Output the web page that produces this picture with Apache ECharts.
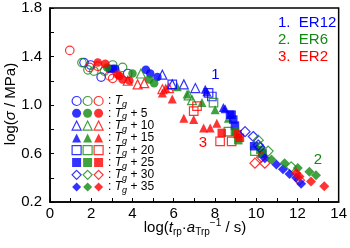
<!DOCTYPE html>
<html><head><meta charset="utf-8">
<script src="https://cdn.jsdelivr.net/npm/echarts@6/dist/echarts.min.js"></script>
<style>html,body{margin:0;padding:0;background:#fff}#c{width:350px;height:248px}</style>
</head><body><div id="c"></div><script>
// ---- data ----
const samples = ['ER12', 'ER6', 'ER2'];
const sampleColors = ['#0000ff', '#118a11', '#ff0000'];
const tempLabels = ['', ' + 5', ' + 10', ' + 15', ' + 20', ' + 25', ' + 30', ' + 35'];
const xTicks = [0, 2, 4, 6, 8, 10, 12, 14];
const yTicks = [0.2, 0.6, 1.0, 1.4, 1.8];

// ER12 (blue)
const er12_Tg   = [[1.65,1.35],[1.97,1.33],[2.48,1.23],[3.77,1.26]];
const er12_Tg5  = [[2.88,1.30],[3.05,1.30],[3.16,1.30],[4.65,1.29],[4.86,1.26],[5.21,1.23]];
const er12_Tg10 = [[5.45,1.25],[5.93,1.17],[6.49,1.17],[7.05,1.14]];
const er12_Tg15 = [[7.53,1.13],[7.61,1.11],[8.41,0.98],[8.49,0.97]];
const er12_Tg20 = [[5.93,1.17],[7.69,1.10],[7.85,1.07]];
const er12_Tg25 = [[8.73,0.92],[8.81,0.92],[8.89,0.88],[8.97,0.83],[9.9,0.66],[10.3,0.60]];
const er12_Tg30 = [[9.46,0.78],[9.86,0.74],[10.10,0.67],[10.18,0.65]];
const er12_Tg35 = [[10.42,0.56],[10.98,0.51],[11.30,0.47],[11.62,0.43],[11.94,0.40],[12.18,0.35]];
// ER6 (green)
const er6_Tg   = [[1.55,1.35],[1.84,1.29],[2.13,1.28],[2.64,1.28],[3.04,1.33],[3.52,1.31]];
const er6_Tg5  = [[2.77,1.31],[4.00,1.26],[4.81,1.21],[5.05,1.18]];
const er6_Tg10 = [[4.41,1.26],[6.73,1.08],[6.89,1.04]];
const er6_Tg15 = [[6.17,1.15],[6.65,1.09],[7.37,1.02],[8.01,0.96],[8.65,0.89]];
const er6_Tg20 = [[7.93,1.02],[8.65,0.78],[9.94,0.62]];
const er6_Tg25 = [[8.97,0.78],[9.13,0.71],[10.20,0.63],[10.30,0.60]];
const er6_Tg30 = [[10.10,0.71],[10.58,0.62],[11.70,0.49]];
const er6_Tg35 = [[10.74,0.55],[11.38,0.52],[12.02,0.48],[12.58,0.45],[12.90,0.42]];
// ER2 (red)
const er2_Tg   = [[0.96,1.45],[1.92,1.31],[2.32,1.32],[2.88,1.24],[3.04,1.22]];
const er2_Tg5  = [[2.32,1.35],[2.68,1.34],[3.28,1.25],[3.37,1.24],[3.52,1.21],[3.85,1.20]];
const er2_Tg10 = [[3.77,1.20],[4.25,1.17],[4.57,1.18],[5.45,1.13],[5.77,1.14]];
const er2_Tg15 = [[5.45,1.10],[5.61,1.14],[5.93,1.05],[6.49,0.89],[6.97,0.88],[7.45,0.81],[7.77,0.81],[8.09,0.85]];
const er2_Tg20 = [[6.97,0.95],[7.13,0.99],[8.25,0.70],[8.81,0.70]];
const er2_Tg25 = [[8.33,0.77],[9.10,0.76],[9.21,0.73]];
const er2_Tg30 = [[9.94,0.52],[10.26,0.57],[10.42,0.52],[12.10,0.38]];
const er2_Tg35 = [[11.94,0.44],[12.10,0.41],[12.66,0.37],[13.30,0.33]];

const sampleData = [
  [er12_Tg, er12_Tg5, er12_Tg10, er12_Tg15, er12_Tg20, er12_Tg25, er12_Tg30, er12_Tg35],
  [er6_Tg, er6_Tg5, er6_Tg10, er6_Tg15, er6_Tg20, er6_Tg25, er6_Tg30, er6_Tg35],
  [er2_Tg, er2_Tg5, er2_Tg10, er2_Tg15, er2_Tg20, er2_Tg25, er2_Tg30, er2_Tg35]
];
const symbols = ['circle','circle','triangle','triangle','rect','rect','diamond','diamond'];
const filled  = [false, true, false, true, false, true, false, true];

// ---- build ----
const FONT = 'Liberation Sans, Arial, sans-serif';
const series = [];
const legendData = [[], [], []];
const tempIdx = {};
samples.forEach((s, si) => {
  const col = sampleColors[si];
  sampleData[si].forEach((arr, ti) => {
    const name = s + ' T' + ti;
    tempIdx[name] = ti;
    const sym = symbols[ti];
    const size = sym === 'diamond' ? 10 : (sym === 'triangle' ? 9 : 8.5);
    const style = filled[ti]
      ? { color: col, borderWidth: 0 }
      : { color: 'rgba(255,255,255,0)', borderColor: col, borderWidth: 1.2 };
    series.push({
      name, type: 'scatter', symbol: sym, symbolSize: size,
      data: arr, itemStyle: style, silent: true, z: 2 + ti
    });
    legendData[si].push({ name, icon: sym, itemStyle: style });
  });
});

function makeRich(color) {
  return {
    c: { fontSize: 12, fontFamily: FONT, lineHeight: 12, color },
    i: { fontSize: 12, fontFamily: FONT, fontStyle: 'italic', lineHeight: 12, color },
    s: { fontSize: 9, fontFamily: FONT, fontStyle: 'italic', lineHeight: 9, padding: [7, 0, 0, 0], color }
  };
}
function fmt(name) {
  return '{c|: }{i|T}{s|g}{c|' + tempLabels[tempIdx[name]] + '}';
}
const legendLeft = [71.5, 82.5, 93.5];
const legends = samples.map((s, si) => {
  const c = si === 2 ? '#000' : 'rgba(0,0,0,0)';
  return {
    data: legendData[si], orient: 'vertical', left: legendLeft[si], top: 93,
    padding: 0, itemWidth: 9, itemHeight: 9, itemGap: -3.7, selectedMode: false,
    formatter: fmt,
    textStyle: { color: c, fontSize: 12, fontFamily: FONT, rich: makeRich(c) }
  };
});

const chart = echarts.init(document.getElementById('c'), null, { renderer: 'canvas' });
chart.setOption({
  animation: false,
  backgroundColor: '#fff',
  grid: { left: 50, right: 9, top: 8, bottom: 46, show: true, borderColor: '#000', borderWidth: 1.5, backgroundColor: 'transparent' },
  xAxis: {
    type: 'value', min: xTicks[0], max: xTicks[xTicks.length - 1], interval: 2,
    axisLine: { show: true, lineStyle: { color: '#000', width: 1.5 } },
    axisTick: { show: true, inside: true, length: 4, lineStyle: { color: '#000', width: 1 } },
    minorTick: { show: true, splitNumber: 2, length: 4, lineStyle: { color: '#000', width: 1 } },
    splitLine: { show: false },
    axisLabel: { color: '#000', fontSize: 15, fontFamily: FONT, margin: 4 }
  },
  yAxis: {
    type: 'value', min: yTicks[0], max: yTicks[yTicks.length - 1], interval: 0.4,
    axisLine: { show: true, lineStyle: { color: '#000', width: 1.5 } },
    axisTick: { show: true, inside: true, length: 4, lineStyle: { color: '#000', width: 1 } },
    minorTick: { show: true, splitNumber: 2, length: 4, lineStyle: { color: '#000', width: 1 } },
    splitLine: { show: false },
    axisLabel: { color: '#000', fontSize: 15, fontFamily: FONT, margin: 8,
      formatter: v => (Math.round(v * 10) / 10).toFixed(1) }
  },
  legend: legends,
  series,
  graphic: [
    { type: 'text', x: 195, y: 228, style: {
        text: '{n|log(}{it|t}{sb|rp}{n|·}{it|a}{sb|Trp}{sp|−1}{n| / s)}',
        align: 'center', verticalAlign: 'middle', fill: '#000',
        rich: {
          n: { fontSize: 15, fontFamily: FONT },
          it: { fontSize: 15, fontFamily: FONT, fontStyle: 'italic' },
          sb: { fontSize: 10, fontFamily: FONT, padding: [8, 0, 0, 0] },
          sp: { fontSize: 10, fontFamily: FONT, padding: [0, 0, 9, 0] }
        } } },
    { type: 'text', x: 11, y: 104, rotation: Math.PI / 2, style: {
        text: '{n|log(}{it|σ}{n| / MPa)}', align: 'center', verticalAlign: 'middle', fill: '#000',
        rich: {
          n: { fontSize: 15, fontFamily: FONT },
          it: { fontSize: 15, fontFamily: FONT, fontStyle: 'italic' }
        } } },
    { type: 'text', x: 278, y: 23, style: { text: '1.  ER12', fill: sampleColors[0], font: '15px ' + FONT, verticalAlign: 'middle' } },
    { type: 'text', x: 278, y: 40, style: { text: '2.  ER6', fill: sampleColors[1], font: '15px ' + FONT, verticalAlign: 'middle' } },
    { type: 'text', x: 278, y: 57, style: { text: '3.  ER2', fill: sampleColors[2], font: '15px ' + FONT, verticalAlign: 'middle' } },
    { type: 'text', x: 215.5, y: 75, style: { text: '1', fill: sampleColors[0], font: '15px ' + FONT, align: 'center', verticalAlign: 'middle' } },
    { type: 'text', x: 318, y: 160, style: { text: '2', fill: sampleColors[1], font: '15px ' + FONT, align: 'center', verticalAlign: 'middle' } },
    { type: 'text', x: 203, y: 143, style: { text: '3', fill: sampleColors[2], font: '15px ' + FONT, align: 'center', verticalAlign: 'middle' } }
  ]
});
</script></body></html>
